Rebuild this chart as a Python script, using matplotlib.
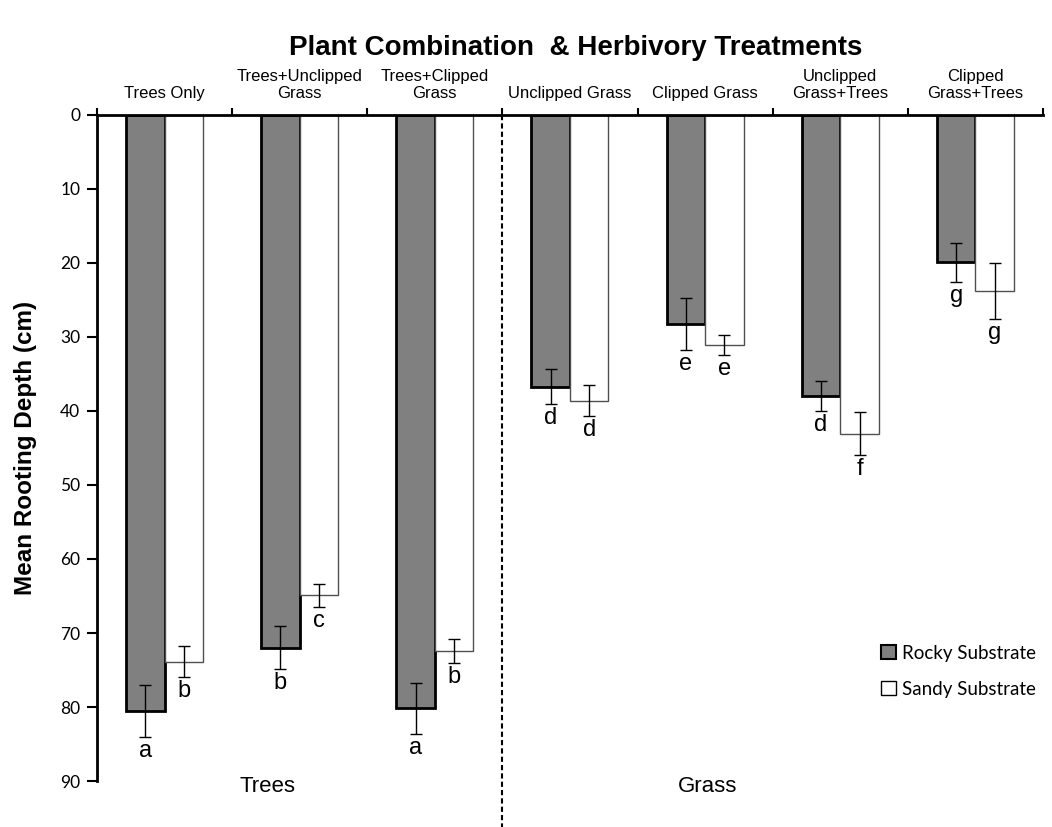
from matplotlib import pyplot as plt
from matplotlib.patches import Patch
import numpy as np

# Treatment groups along the top axis
treatments = ["Trees Only", "Trees+Unclipped\nGrass", "Trees+Clipped\nGrass",
              "Unclipped Grass", "Clipped Grass", "Unclipped\nGrass+Trees",
              "Clipped\nGrass+Trees"]

# Mean rooting depth (cm) and standard errors
rocky_depth = [80.5, 72.0, 80.2, 36.7, 28.3, 38.0, 19.9]
rocky_err = [3.5, 2.9, 3.5, 2.35, 3.5, 2.05, 2.65]
sandy_depth = [73.9, 64.9, 72.4, 38.6, 31.1, 43.1, 23.8]
sandy_err = [2.1, 1.55, 1.6, 2.05, 1.4, 2.9, 3.8]

# Significance letters
rocky_letters = ["a", "b", "a", "d", "e", "d", "g"]
sandy_letters = ["b", "c", "b", "d", "e", "f", "g"]

plt.rcParams["font.family"] = ["Liberation Sans", "DejaVu Sans"]

fig = plt.figure(figsize=(10.52, 8.27), dpi=100)
ax = fig.add_axes([0.0922, 0.0556, 0.8992, 0.8054])

x = np.arange(len(treatments))
width = 0.285

ax.bar(x - width, rocky_depth, width, align="edge", color="#808080",
       edgecolor="black", linewidth=2, zorder=2)
ax.bar(x, sandy_depth, width, align="edge", color="white",
       edgecolor="#505050", linewidth=1, zorder=2)
ax.errorbar(x - width / 2, rocky_depth, yerr=rocky_err, fmt="none",
            ecolor="black", elinewidth=1, capsize=4, capthick=1, zorder=3)
ax.errorbar(x + width / 2, sandy_depth, yerr=sandy_err, fmt="none",
            ecolor="black", elinewidth=1, capsize=4, capthick=1, zorder=3)

for i in range(len(treatments)):
    ax.text(x[i] - width / 2, rocky_depth[i] + rocky_err[i] + 0.4,
            rocky_letters[i], ha="center", va="top", fontsize=17)
    ax.text(x[i] + width / 2, sandy_depth[i] + sandy_err[i] + 0.4,
            sandy_letters[i], ha="center", va="top", fontsize=17)

ax.set_xlim(-0.5, len(treatments) - 0.5)
ax.set_ylim(90, 0)

# Category labels across the top, boundaries marked with minor ticks
ax.xaxis.tick_top()
ax.set_xticks(x)
ax.set_xticklabels(treatments, fontsize=12, linespacing=1.2)
ax.tick_params(axis="x", which="major", length=0, pad=10)
ax.set_xticks(np.arange(-0.5, len(treatments)), minor=True)
ax.tick_params(axis="x", which="minor", direction="out", length=5,
               width=1.5, top=True)

ax.set_yticks(np.arange(0, 91, 10))
ax.tick_params(axis="y", direction="out", length=7, width=1.5, pad=5,
               labelsize=12.5)
for lab in ax.get_yticklabels():
    lab.set_family(["Lato", "DejaVu Sans"])

ax.spines["right"].set_visible(False)
ax.spines["bottom"].set_visible(False)
ax.spines["left"].set_linewidth(2)
ax.spines["top"].set_linewidth(2)

ax.set_ylabel("Mean Rooting Depth (cm)", fontsize=17.5, fontweight="bold",
              labelpad=17)

# Divider between tree and grass groups
ax.plot([2.5, 2.5], [0, 100], color="black", linestyle=(0, (2.5, 1.5)),
        linewidth=1.5, clip_on=False, zorder=1)

ax.text(0.76, 90.8, "Trees", ha="center", va="center", fontsize=16)
ax.text(4.02, 90.8, "Grass", ha="center", va="center", fontsize=16)

fig.text(0.547, 0.942, "Plant Combination  & Herbivory Treatments",
         ha="center", va="center", fontsize=20, fontweight="bold")

handles = [Patch(facecolor="#808080", edgecolor="black", linewidth=1.5,
                 label="Rocky Substrate"),
           Patch(facecolor="white", edgecolor="black", linewidth=1,
                 label="Sandy Substrate")]
ax.legend(handles=handles, loc="lower right", bbox_to_anchor=(1.01, 0.1),
          frameon=False, handlelength=0.8, handleheight=0.8,
          handletextpad=0.3, labelspacing=1.0,
          prop={"family": ["Lato", "DejaVu Sans"], "size": 13.5})

plt.savefig("out.png", dpi=100)
